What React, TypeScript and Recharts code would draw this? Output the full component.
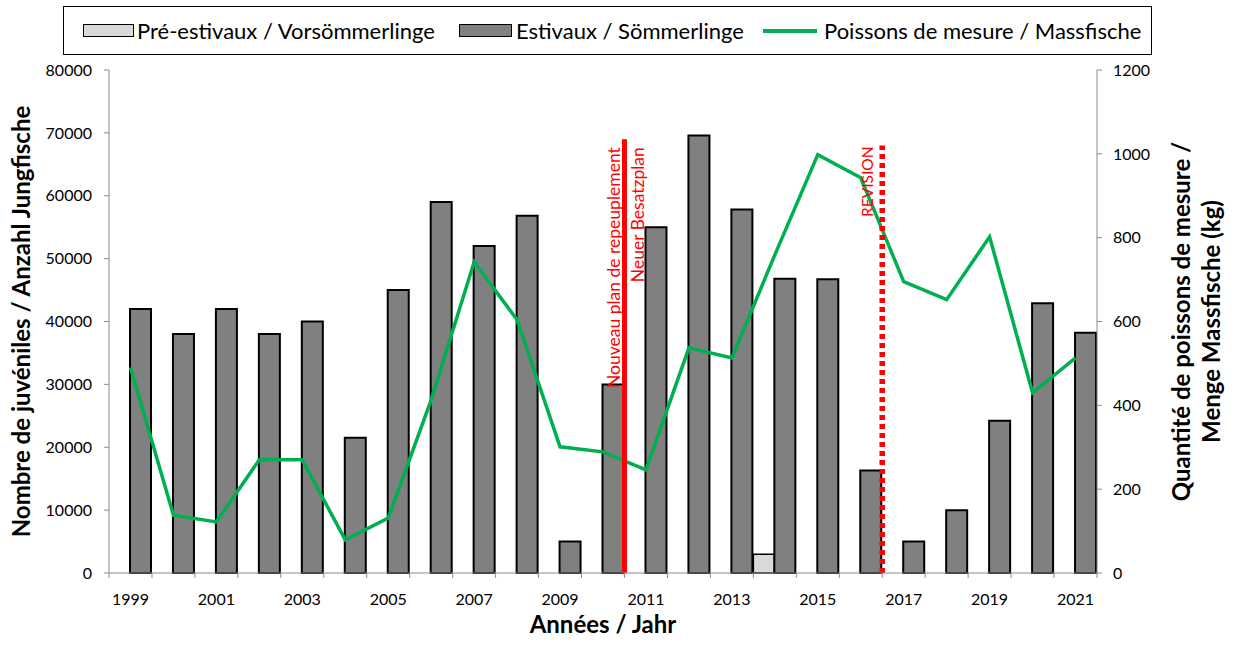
import React from 'react';
import {
  ComposedChart,
  Bar,
  Line,
  XAxis,
  YAxis,
  Legend,
  ReferenceLine,
} from 'recharts';

// ---------- data ----------
const years = [
  '1999', '2000', '2001', '2002', '2003', '2004', '2005', '2006', '2007', '2008', '2009', '2010',
  '2011', '2012', '2013', '2014', '2015', '2016', '2017', '2018', '2019', '2020', '2021',
];
const preEstivaux: (number | null)[] = [
  null, null, null, null, null, null, null, null, null, null, null, null,
  null, null, null, 3000, null, null, null, null, null, null, null,
];
const estivaux = [
  42000, 38000, 42000, 38000, 40000, 21500, 45000, 59000, 52000, 56800, 5000, 30000,
  55000, 69600, 57800, 46800, 46700, 16300, 5000, 10000, 24200, 42900, 38200,
];
const massfische = [
  490, 138, 122, 270, 270, 79, 131, 413, 742, 604, 301, 289,
  246, 537, 513, 759, 998, 943, 695, 652, 802, 430, 513,
];
const leftTicks = [0, 10000, 20000, 30000, 40000, 50000, 60000, 70000, 80000];
const rightTicks = [0, 200, 400, 600, 800, 1000, 1200];
// event markers: drawn at the end (right edge) of the given year's band
const newPlanYear = '2010';
const newPlanTop = 69000;
const revisionYear = '2016';
const revisionTop = 68000;

const data = years.map((y, i) => ({
  year: y,
  pre: preEstivaux[i],
  est: estivaux[i],
  mass: massfische[i],
}));

// ---------- layout ----------
const W = 1242;
const H = 647;
const PLOT_L = 109;
const PLOT_R = 1097;
const PLOT_T = 70;
const PLOT_B = 573;
const FONT = 'Lato, "Open Sans", sans-serif';
const AXIS_GREY = '#8c8c8c';

const XTick = (props: any) => {
  const { x, payload, index } = props;
  const band = (PLOT_R - PLOT_L) / years.length;
  const last = index === years.length - 1;
  return (
    <g>
      <line x1={x - band / 2} x2={x - band / 2} y1={PLOT_B} y2={PLOT_B + 5} stroke={AXIS_GREY} strokeWidth={1} />
      {last && (
        <line x1={x + band / 2} x2={x + band / 2} y1={PLOT_B} y2={PLOT_B + 5} stroke={AXIS_GREY} strokeWidth={1} />
      )}
      {index % 2 === 0 && (
        <text x={x} y={PLOT_B + 32} textAnchor="middle" fontFamily={FONT} fontSize={16} fill="#000">
          {payload.value}
        </text>
      )}
    </g>
  );
};

const renderLegend = () => {
  const item = (left: number, swatch: React.ReactNode, label: string) => (
    <div style={{ position: 'absolute', left, top: 0, height: 47, display: 'flex', alignItems: 'center' }}>
      {swatch}
      <span style={{ fontFamily: FONT, fontSize: 22, color: '#000', whiteSpace: 'nowrap' }}>{label}</span>
    </div>
  );
  return (
    <div
      style={{
        position: 'relative',
        width: 1089,
        height: 49,
        boxSizing: 'border-box',
        border: '1.5px solid #000',
        background: '#fff',
      }}
    >
      {item(
        19,
        <div style={{ width: 51, height: 13, boxSizing: 'border-box', background: '#d9d9d9', border: '1.5px solid #000', marginRight: 3 }} />,
        'Pré-estivaux / Vorsömmerlinge'
      )}
      {item(
        395,
        <div style={{ width: 53, height: 13, boxSizing: 'border-box', background: '#808080', border: '1.5px solid #000', marginRight: 4 }} />,
        'Estivaux / Sömmerlinge'
      )}
      {item(
        699,
        <div style={{ width: 54, height: 4, background: '#00b050', marginRight: 7 }} />,
        'Poissons de mesure / Massfische'
      )}
    </div>
  );
};

const vText = (x: number, y: number, text: string, size: number, anchor: string, extra: any = {}) => (
  <text
    x={x}
    y={y}
    transform={`rotate(-90, ${x}, ${y})`}
    textAnchor={anchor}
    dominantBaseline="central"
    fontFamily={FONT}
    fontSize={size}
    {...extra}
  >
    {text}
  </text>
);

const planLabel = (props: any) => {
  const vb = props.viewBox || {};
  const top = vb.y + 8;
  return (
    <g>
      {vText(vb.x - 11, top, 'Nouveau plan de repeuplement', 17.5, 'end', { fill: '#ff0000' })}
      {vText(vb.x + 13, top, 'Neuer Besatzplan', 17.5, 'end', { fill: '#ff0000' })}
    </g>
  );
};

const revisionLabel = (props: any) => {
  const vb = props.viewBox || {};
  return vText(vb.x - 15, vb.y + 1, 'REVISION', 15.5, 'end', { fill: '#ff0000' });
};

const leftTitle = (props: any) => {
  const vb = props.viewBox || {};
  return vText(vb.x + 20, vb.y + vb.height / 2, 'Nombre de juvéniles / Anzahl Jungfische', 24, 'middle', {
    fontWeight: 'bold',
    fill: '#000',
  });
};

const rightTitle = (props: any) => {
  const vb = props.viewBox || {};
  const cy = vb.y + vb.height / 2;
  return (
    <g>
      {vText(vb.x + 83, cy, 'Quantité de poissons de mesure /', 24, 'middle', { fontWeight: 'bold', fill: '#000' })}
      {vText(vb.x + 113, cy, 'Menge Massfische (kg)', 24, 'middle', { fontWeight: 'bold', fill: '#000' })}
    </g>
  );
};

const bottomTitle = (props: any) => {
  const vb = props.viewBox || {};
  return (
    <text
      x={vb.x + vb.width / 2}
      y={PLOT_B + 60}
      textAnchor="middle"
      fontFamily={FONT}
      fontWeight="bold"
      fontSize={24}
      fill="#000"
    >
      Années / Jahr
    </text>
  );
};

export default function App() {
  return (
    <div style={{ position: 'absolute', left: 0, top: 0, width: W, height: H, background: '#fff' }}>
      <ComposedChart
        width={W}
        height={H}
        data={data}
        margin={{ top: PLOT_T, right: 0, bottom: 0, left: 0 }}
        barGap={0}
        barCategoryGap={0}
      >
        <XAxis
          xAxisId="cat"
          dataKey="year"
          height={H - PLOT_B}
          interval={0}
          axisLine={{ stroke: AXIS_GREY, strokeWidth: 1 }}
          tickLine={{ stroke: 'none' }}
          tickSize={6}
          tickMargin={2}
          tick={<XTick />}
          label={bottomTitle}
        />
        <YAxis
          yAxisId="left"
          orientation="left"
          width={PLOT_L}
          domain={[0, 80000]}
          ticks={leftTicks}
          interval={0}
          axisLine={{ stroke: AXIS_GREY, strokeWidth: 1 }}
          tickLine={{ stroke: AXIS_GREY, strokeWidth: 1 }}
          tickSize={5}
          tickMargin={12}
          tick={{ fill: '#000', fontSize: 16, fontFamily: FONT }}
          label={leftTitle}
        />
        <YAxis
          yAxisId="right"
          orientation="right"
          width={W - PLOT_R}
          domain={[0, 1200]}
          ticks={rightTicks}
          interval={0}
          axisLine={{ stroke: AXIS_GREY, strokeWidth: 1 }}
          tickLine={{ stroke: AXIS_GREY, strokeWidth: 1 }}
          tickSize={5}
          tickMargin={11}
          tick={{ fill: '#000', fontSize: 16, fontFamily: FONT }}
          label={rightTitle}
        />
        <Legend
          verticalAlign="top"
          content={renderLegend}
          wrapperStyle={{ position: 'absolute', top: 6, left: 63, width: 1089, height: 0, overflow: 'visible' }}
        />
        <Bar
          xAxisId="cat"
          yAxisId="left"
          dataKey="pre"
          name="Pré-estivaux / Vorsömmerlinge"
          fill="#d9d9d9"
          stroke="#000"
          strokeWidth={1.5}
          isAnimationActive={false}
        />
        <Bar
          xAxisId="cat"
          yAxisId="left"
          dataKey="est"
          name="Estivaux / Sömmerlinge"
          fill="#808080"
          stroke="#000"
          strokeWidth={2}
          isAnimationActive={false}
        />
        <Line
          xAxisId="cat"
          yAxisId="right"
          dataKey="mass"
          name="Poissons de mesure / Massfische"
          stroke="#00b050"
          strokeWidth={3.5}
          dot={false}
          activeDot={false}
          isAnimationActive={false}
        />
        <ReferenceLine
          xAxisId="cat"
          yAxisId="left"
          position="end"
          segment={[
            { x: newPlanYear, y: 0 },
            { x: newPlanYear, y: newPlanTop },
          ]}
          stroke="#ff0000"
          strokeWidth={5}
          label={planLabel}
        />
        <ReferenceLine
          xAxisId="cat"
          yAxisId="left"
          position="end"
          segment={[
            { x: revisionYear, y: 0 },
            { x: revisionYear, y: revisionTop },
          ]}
          stroke="#ff0000"
          strokeWidth={5.5}
          strokeDasharray="5 4"
          label={revisionLabel}
        />
      </ComposedChart>
    </div>
  );
}
